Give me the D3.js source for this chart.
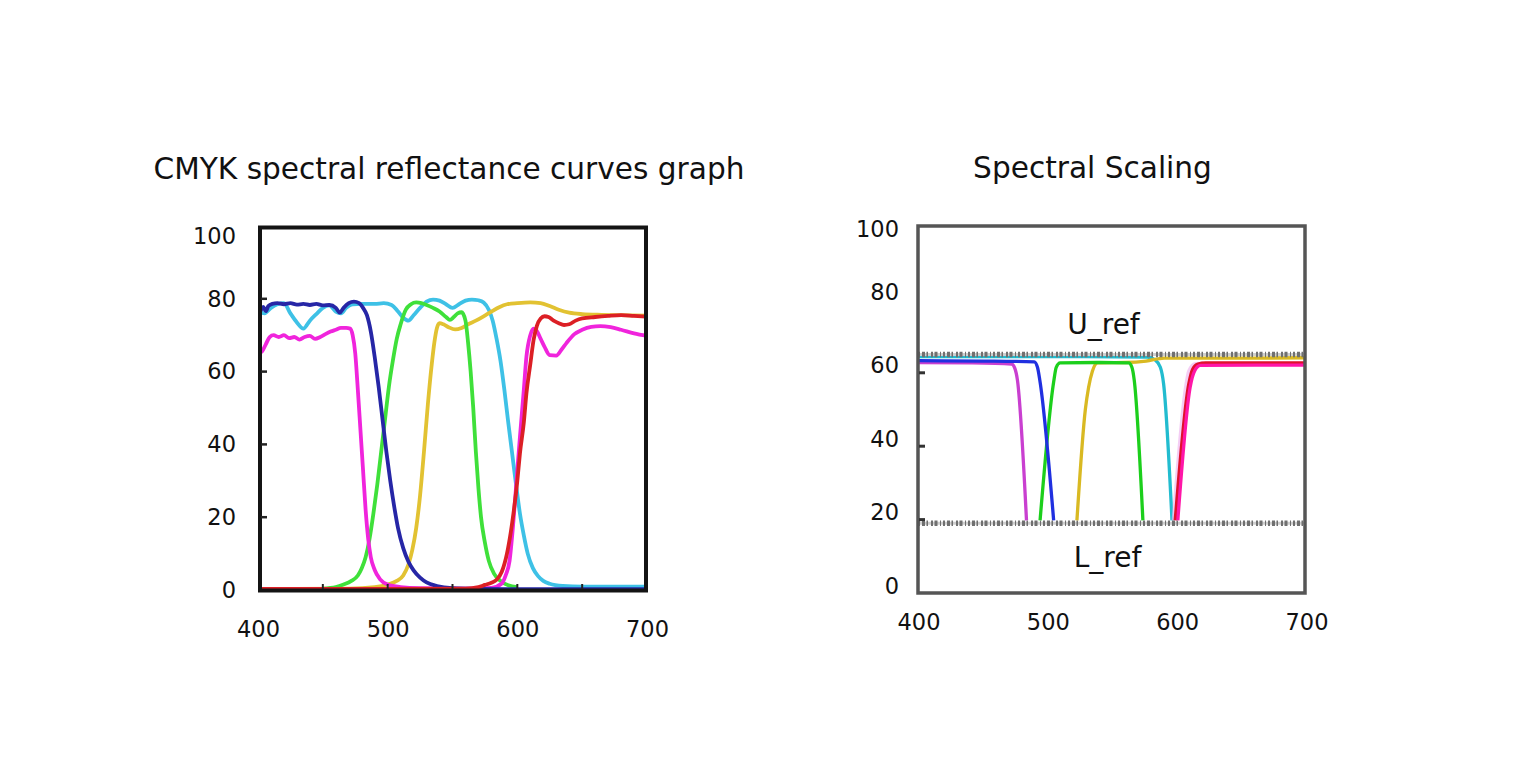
<!DOCTYPE html>
<html><head><meta charset="utf-8">
<script src="https://cdn.jsdelivr.net/npm/d3@7"></script>
<style>
body{margin:0;background:#fff}
text{font-family:"DejaVu Sans",sans-serif;fill:#111}
</style>
</head><body>
<svg id="c" width="1518" height="783"></svg>
<script>
// ---------- tick labels / categories ----------
const xTickLabels = [400, 500, 600, 700];
const yTickLabels = [0, 20, 40, 60, 80, 100];
const leftInnerXTicks = [450, 500, 550, 600, 650];
const leftInnerYTicks = [20, 40, 60, 80];
const rightInnerYTicks = [20, 40, 60];
const titles = ["CMYK spectral reflectance curves graph", "Spectral Scaling"];
const refLabels = ["U_ref", "L_ref"];
const refValues = [65, 19];

// ---------- left chart series: [wavelength nm, reflectance %] ----------
const cyanL = [[400,76.5],[405,76],[410,77.5],[415,78.5],[420,78.8],[425,76],[430,73.5],[435,71.8],[440,74],[445,75.8],[450,77.5],[455,78.2],[460,76.5],[464,76],[468,77.5],[473,78.5],[480,78.6],[490,78.6],[497,78.8],[503,78.3],[508,76.5],[512,74.8],[516,74],[520,75.5],[525,77.5],[530,79.2],[535,79.8],[540,79.5],[545,78.5],[550,77.5],[555,78.5],[560,79.5],[565,79.8],[570,79.6],[574,79],[578,77],[581,74],[584,69],[587,63],[590,55],[593,46],[596,37.5],[599,29],[602,21],[605,15],[608,10],[612,6],[616,3.8],[620,2.5],[625,1.7],[635,1.1],[650,0.9],[700,0.9]];
const yellowL = [[400,0.3],[470,0.4],[490,0.8],[500,1.5],[507,2.5],[512,4],[516,7],[519,11],[522,17],[525,26],[528,38],[531,51],[534,62],[536,68],[538,72],[540,73.3],[543,73],[547,72.2],[552,71.6],[557,72],[562,73],[568,74],[574,75.2],[580,76.5],[586,77.7],[592,78.5],[600,78.8],[610,79],[618,78.8],[625,78],[632,77],[640,76.2],[650,75.8],[665,75.6],[680,75.5],[700,75.4]];
const greenL = [[450,0.4],[460,0.8],[466,1.5],[472,2.5],[477,4],[480,6],[483,9],[486,14],[489,21],[492,29],[495,38],[498,47],[501,56],[504,63],[507,69],[510,73],[514,77],[518,78.5],[522,79],[526,78.8],[530,78.3],[535,77.5],[540,76.5],[545,75],[548,74.2],[551,75],[554,76],[557,76.3],[560,74],[562,68],[564,60],[566,50],[568,38],[570,28],[572,20],[575,13],[578,8],[582,4.5],[587,2.5],[593,1.3],[600,0.8]];
const magentaL = [[400,65],[403,65.5],[406,67.5],[409,69.5],[412,70],[416,69.5],[420,70],[424,69.2],[428,69.5],[432,68.8],[436,69.5],[440,69.8],[444,69],[448,69.5],[452,70.3],[456,71],[460,71.5],[464,72],[468,72],[471,71.8],[473,70],[475,65],[477,55],[479,44],[481,33],[483,22],[485,14],[487,9],[490,5.5],[494,3],[500,1.5],[510,0.8],[525,0.5],[560,0.4],[580,0.6],[588,1.8],[591,4],[594,8],[597,19],[600,33],[602,42],[605,55],[607,64],[610,70],[612.5,71.8],[615,71.2],[618,69],[621,66.8],[625,64.5],[630,64.4],[634,66],[638,67.9],[644,70.3],[650,71.5],[657,72.3],[664,72.5],[672,72.2],[680,71.5],[690,70.5],[700,69.8]];
const blueL = [[400,77.4],[402,76.8],[404,77.8],[406,76.6],[408,78],[411,78.6],[415,78.8],[420,78.5],[425,78.8],[430,78.4],[435,78.6],[440,78.3],[445,78.6],[450,78.2],[455,78.3],[460,77.5],[463,76.2],[466,77.5],[470,78.8],[474,79.2],[478,78.8],[481,77.5],[484,75.5],[487,71],[490,64],[493,56],[496,47],[499,38],[502,30],[505,23],[508,17],[512,11.5],[516,7.8],[520,5.4],[525,3.4],[530,2.1],[538,1.1],[550,0.5],[570,0.3],[600,0.2],[700,0.2]];
const redL = [[400,0.3],[500,0.3],[560,0.4],[570,0.8],[575,1.4],[580,2],[584,2.8],[588,5],[592,10],[595,16],[597,21],[600,30],[602,37.5],[605,46],[607,54],[610,62],[612.5,68.6],[615,72.5],[618,74.6],[621,75.2],[624,75],[628,74],[632,73.3],[636,72.8],[640,73],[645,74],[650,74.6],[660,75],[670,75.3],[680,75.5],[690,75.3],[700,75.1]];

// ---------- right chart series (scaled) ----------
const violetR = [[400,62.8],[440,62.7],[472,62.4],[474.5,61.2],[476.5,58],[483.5,19.8]];
const blueR = [[400,63.3],[450,63.2],[489.5,63.0],[492,61.5],[493.8,58],[504.5,19.8]];
const greenR = [[494,19.8],[504.5,57.5],[506.5,61.5],[509.5,62.7],[540,62.8],[562.5,62.7],[565,61.5],[566.8,58],[573.5,19.8]];
const yellowR = [[522.5,19.8],[529,50],[531.5,56],[534.5,60.5],[538.5,62.7],[560,62.8],[576,63.2],[590,64.0],[650,64.0],[700,64.1]];
const cyanR = [[400,64.4],[500,64.4],[577,64.3],[583,63.5],[587,61.5],[589.5,57],[596,19.8]];
const ghostR = [[597,19.8],[606.5,56],[609,60.5],[614,62.5],[620,62.6]];
const redR = [[598.5,19.8],[609,57],[612,61],[616,62.4],[622,62.7],[660,62.7],[700,62.7]];
const magentaR = [[600.5,19.8],[610,56],[613.5,60.5],[618,62],[660,62.1],[700,62.1]];

const leftSeries = [
  {d: cyanL, c: "#3ec1e6"},
  {d: yellowL, c: "#e2c232"},
  {d: greenL, c: "#3fe03a"},
  {d: magentaL, c: "#f024dc"},
  {d: blueL, c: "#2626a6"},
  {d: redL, c: "#dc1f25"}
];
const rightSeries = [
  {d: cyanR, c: "#22bccf", o: 1},
  {d: yellowR, c: "#d9b922", o: 1},
  {d: greenR, c: "#1ccf1c", o: 1},
  {d: violetR, c: "#c93fd0", o: 1},
  {d: blueR, c: "#2030e0", o: 1},
  {d: ghostR, c: "#f0b8f0", o: 0.7},
  {d: redR, c: "#e0102c", o: 1},
  {d: magentaR, c: "#ff16a8", o: 1}
];

const svg = d3.select("#c");
const defs = svg.append("defs");

// ================= LEFT CHART =================
const x1 = d3.scaleLinear([400, 700], [258, 647]);
const y1 = d3.scaleLinear([0, 100], [590, 226]);
const gL = svg.append("g");

defs.append("clipPath").attr("id","clipL")
  .append("rect").attr("x",258).attr("y",224).attr("width",390).attr("height",369);

const line1 = d3.line().x(d => x1(d[0])).y(d => y1(d[1])).curve(d3.curveMonotoneX);
const linesL = gL.append("g").attr("clip-path","url(#clipL)");
leftSeries.forEach(s => {
  linesL.append("path").attr("d", line1(s.d)).attr("fill","none")
    .attr("stroke", s.c).attr("stroke-width", 3.8).attr("stroke-linejoin","round");
});
gL.append("rect").attr("x", 260).attr("y", 227.5).attr("width", 386).attr("height", 363)
  .attr("fill","none").attr("stroke","#141414").attr("stroke-width",4);
leftInnerXTicks.forEach(t => {
  gL.append("line").attr("x1", x1(t)).attr("x2", x1(t)).attr("y1", y1(0)-1).attr("y2", y1(0)-6)
    .attr("stroke","#222").attr("stroke-width",2);
});
leftInnerYTicks.forEach(t => {
  gL.append("line").attr("x1", 261).attr("x2", 267).attr("y1", y1(t)).attr("y2", y1(t))
    .attr("stroke","#222").attr("stroke-width",2.5);
});
const axL = gL.append("g").attr("transform","translate(258,0)")
  .call(d3.axisLeft(y1).tickValues(yTickLabels).tickSize(0).tickPadding(22));
const axB = gL.append("g").attr("transform","translate(0,590)")
  .call(d3.axisBottom(x1).tickValues(xTickLabels).tickSize(0).tickPadding(31));
[axL, axB].forEach(a => { a.select(".domain").remove(); a.selectAll("text").attr("font-size",22.5).attr("font-family","DejaVu Sans").attr("fill","#111"); });
axL.selectAll(".tick").filter(d => d === 100).select("text").attr("dy","0.78em");

gL.append("text").attr("x", 449).attr("y", 179).attr("text-anchor","middle")
  .attr("font-size", 29.6).text(titles[0]);

// ================= RIGHT CHART =================
const x2 = d3.scaleLinear([400, 700], [918.5, 1306.5]);
const y2 = d3.scaleLinear([0, 100], [593, 226]);
const gR = svg.append("g");
const line2 = d3.line().x(d => x2(d[0])).y(d => y2(d[1])).curve(d3.curveMonotoneX);

defs.append("clipPath").attr("id","clipR")
  .append("rect").attr("x",918).attr("y",224).attr("width",387).attr("height",369);
const linesR = gR.append("g").attr("clip-path","url(#clipR)");
rightSeries.forEach(s => {
  linesR.append("path").attr("d", line2(s.d)).attr("fill","none")
    .attr("stroke", s.c).attr("stroke-width", 3.3).attr("opacity", s.o).attr("stroke-linejoin","round");
});
// reference bands
refValues.forEach(v => {
  const yy = y2(v);
  linesR.append("line").attr("x1", 918).attr("x2", 1305).attr("y1", yy).attr("y2", yy)
    .attr("stroke","#cfcfcf").attr("stroke-width",3);
  linesR.append("line").attr("x1", 918).attr("x2", 1305).attr("y1", yy).attr("y2", yy)
    .attr("stroke","#707070").attr("stroke-width",5.5)
    .attr("stroke-dasharray","2 2 3 1.5 1.5 3 2 1.5 3 2.5 1 2");
});
gR.append("rect").attr("x", 918).attr("y", 226).attr("width", 387).attr("height", 367)
  .attr("fill","none").attr("stroke","#555").attr("stroke-width",3.5);
rightInnerYTicks.forEach(t => {
  gR.append("line").attr("x1", 919).attr("x2", 925).attr("y1", y2(t)).attr("y2", y2(t))
    .attr("stroke","#333").attr("stroke-width",3);
});
const axR = gR.append("g").attr("transform","translate(918,0)")
  .call(d3.axisLeft(y2).tickValues(yTickLabels).tickSize(0).tickPadding(19));
const axRB = gR.append("g").attr("transform","translate(0,593)")
  .call(d3.axisBottom(x2).tickValues(xTickLabels).tickSize(0).tickPadding(21));
[axR, axRB].forEach(a => { a.select(".domain").remove(); a.selectAll("text").attr("font-size",22.5).attr("font-family","DejaVu Sans").attr("fill","#111"); });
axR.selectAll(".tick text").attr("dy","0.0em");
axR.selectAll(".tick").filter(d => d === 100).select("text").attr("dy","0.45em");

gR.append("text").attr("x", 1092.5).attr("y", 177.5).attr("text-anchor","middle")
  .attr("font-size", 29.6).text(titles[1]);
gR.append("text").attr("x", 1103.5).attr("y", 334).attr("text-anchor","middle")
  .attr("font-size", 28).text(refLabels[0]);
gR.append("text").attr("x", 1107.5).attr("y", 567).attr("text-anchor","middle")
  .attr("font-size", 28).text(refLabels[1]);
</script>
</body></html>
